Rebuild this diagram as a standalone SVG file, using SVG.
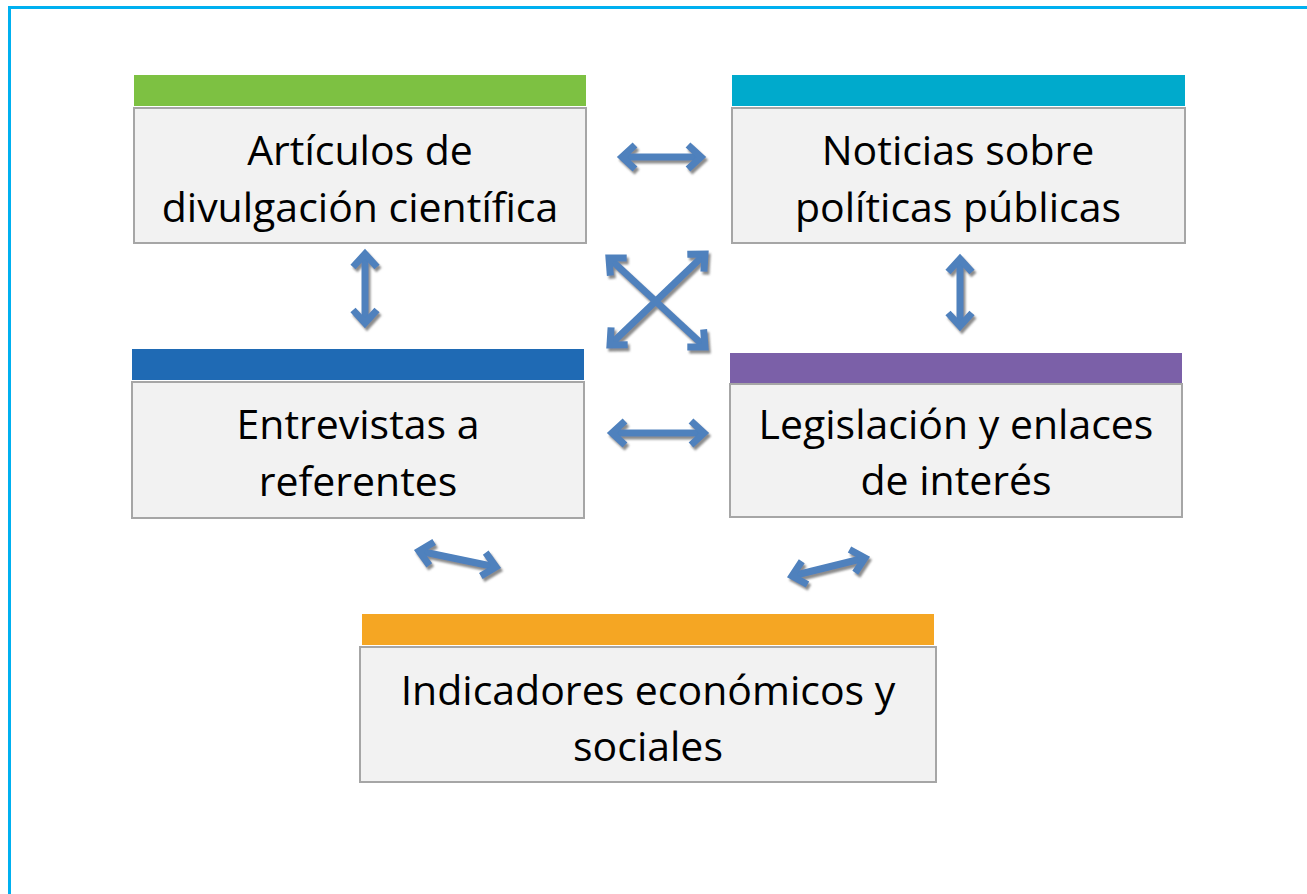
<svg xmlns="http://www.w3.org/2000/svg" width="1307" height="894" viewBox="0 0 1307 894">
<style>
.box{fill:#f2f2f2;stroke:#a6a6a6;stroke-width:2}
.t{font-family:"Open Sans","Noto Sans",sans-serif;font-size:41px;fill:#000;text-anchor:middle}
.c{stroke:#4f81bd;stroke-width:7;fill:none;marker-start:url(#ah);marker-end:url(#ah)}
</style>
<defs>
<marker id="ah" markerUnits="userSpaceOnUse" markerWidth="40" markerHeight="40" viewBox="-20 -20 40 40" refX="0" refY="0" orient="auto-start-reverse">
<path d="M-13,-12 L0,0 L-13,12" stroke="#4f81bd" stroke-width="7" fill="none" stroke-linejoin="miter"/>
</marker>
<filter id="sh" x="-30%" y="-30%" width="160%" height="160%">
<feDropShadow dx="2" dy="3" stdDeviation="1.2" flood-color="#7f7f7f" flood-opacity="0.9"/>
</filter>
</defs>
<rect width="1307" height="894" fill="#fff"/>
<rect x="9.5" y="7.5" width="1320" height="900" fill="none" stroke="#00b0f0" stroke-width="3"/>

<g id="n1">
<rect x="134" y="75" width="452" height="31" fill="#7dc142"/>
<rect class="box" x="134" y="108" width="452" height="135"/>
<text class="t" x="360" y="165">Artículos de</text>
<text class="t" x="360" y="222">divulgación científica</text>
</g>
<g id="n2">
<rect x="732" y="75" width="453" height="31" fill="#00aacc"/>
<rect class="box" x="732" y="108" width="453" height="135"/>
<text class="t" x="958" y="165">Noticias sobre</text>
<text class="t" x="958" y="222">políticas públicas</text>
</g>
<g id="n3">
<rect x="132" y="349" width="452" height="31" fill="#1f6ab4"/>
<rect class="box" x="132" y="382" width="452" height="136"/>
<text class="t" x="358" y="439">Entrevistas a</text>
<text class="t" x="358" y="496">referentes</text>
</g>
<g id="n4">
<rect x="730" y="353" width="452" height="31" fill="#7b60a8"/>
<rect class="box" x="730" y="384" width="452" height="133"/>
<text class="t" x="956" y="439">Legislación y enlaces</text>
<text class="t" x="956" y="495">de interés</text>
</g>
<g id="n5">
<rect x="362" y="614" width="572" height="31" fill="#f5a623"/>
<rect class="box" x="360" y="647" width="576" height="135"/>
<text class="t" x="648" y="705">Indicadores económicos y</text>
<text class="t" x="648" y="761">sociales</text>
</g>

<g id="connectors" filter="url(#sh)">
<line class="c" x1="622" y1="157" x2="701" y2="157"/>
<line class="c" x1="365" y1="254" x2="365" y2="323"/>
<line class="c" x1="960" y1="259" x2="960" y2="326"/>
<line class="c" x1="609" y1="258" x2="705" y2="347"/>
<line class="c" x1="705" y1="254" x2="610" y2="345"/>
<line class="c" x1="612" y1="433" x2="704" y2="433"/>
<line class="c" x1="419" y1="551" x2="496" y2="567"/>
<line class="c" x1="792" y1="576" x2="865" y2="558"/>
</g>
</svg>
